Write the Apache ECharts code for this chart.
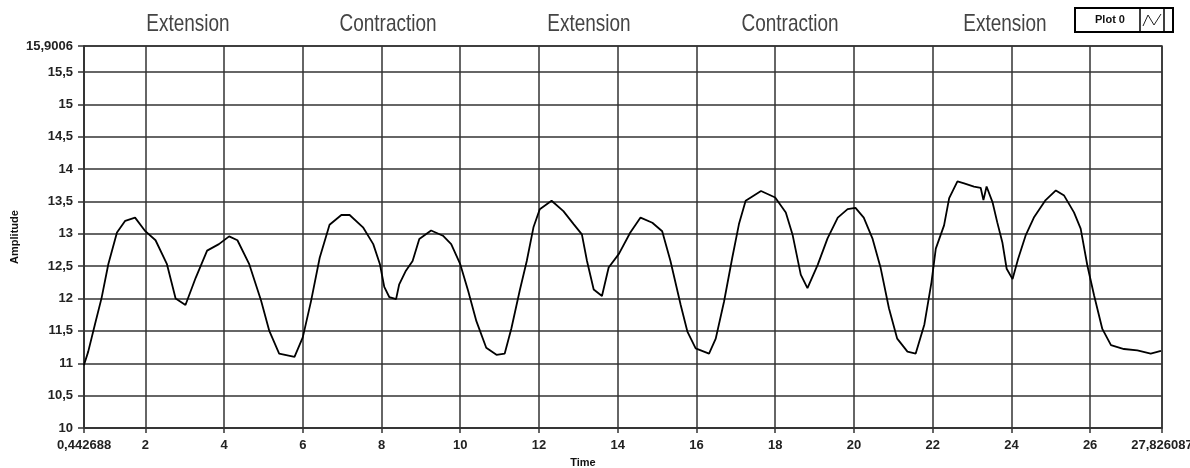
<!DOCTYPE html>
<html>
<head>
<meta charset="utf-8">
<script src="https://cdn.jsdelivr.net/npm/echarts@6/dist/echarts.min.js"></script>
<style>
  html, body { margin: 0; padding: 0; background: #fff; }
  #chart { width: 1190px; height: 468px; }
</style>
</head>
<body>
<div id="chart"></div>
<script>
// ---- data ----
const time = [
  0.44, 0.55, 0.72, 0.89, 1.06, 1.28, 1.49, 1.74, 2.0, 2.26, 2.55, 2.77, 3.02, 3.28, 3.57, 3.87,
  4.13, 4.34, 4.64, 4.94, 5.15, 5.4, 5.79, 6.0, 6.21, 6.43, 6.68, 6.98, 7.19, 7.53, 7.79, 7.96,
  8.07, 8.2, 8.37, 8.45, 8.62, 8.79, 8.96, 9.26, 9.56, 9.77, 10.0, 10.2, 10.41, 10.66, 10.92, 11.13,
  11.3, 11.51, 11.69, 11.86, 12.02, 12.32, 12.62, 12.88, 13.09, 13.22, 13.39, 13.6, 13.77, 14.03,
  14.32, 14.58, 14.88, 15.13, 15.34, 15.6, 15.77, 15.98, 16.32, 16.49, 16.7, 16.91, 17.08, 17.25,
  17.64, 18.0, 18.27, 18.44, 18.65, 18.82, 19.08, 19.33, 19.59, 19.84, 20.04, 20.25, 20.47, 20.68,
  20.89, 21.1, 21.36, 21.57, 21.79, 21.97, 22.08, 22.29, 22.42, 22.63, 22.8, 23.05, 23.22, 23.29,
  23.37, 23.52, 23.64, 23.77, 23.88, 24.03, 24.17, 24.36, 24.58, 24.87, 25.13, 25.34, 25.59, 25.76,
  25.93, 26.1, 26.31, 26.53, 26.86, 27.2, 27.54, 27.8
];
const amplitude = [
  10.97, 11.18, 11.6, 12.01, 12.53, 13.02, 13.2, 13.25, 13.04, 12.9, 12.53, 12.0, 11.9, 12.32, 12.74, 12.84,
  12.96, 12.9, 12.53, 11.97, 11.5, 11.15, 11.1, 11.4, 11.96, 12.63, 13.14, 13.29, 13.29, 13.1, 12.84, 12.53,
  12.18, 12.02, 11.99, 12.22, 12.43, 12.58, 12.92, 13.05, 12.97, 12.84, 12.53, 12.12, 11.65, 11.24, 11.13, 11.15,
  11.54, 12.12, 12.58, 13.1, 13.38, 13.51, 13.35, 13.15, 12.99, 12.58, 12.14, 12.04, 12.48, 12.69,
  13.02, 13.25, 13.17, 13.04, 12.58, 11.9, 11.49, 11.23, 11.15, 11.38, 11.95, 12.63, 13.15, 13.51,
  13.66, 13.56, 13.33, 12.99, 12.37, 12.16, 12.52, 12.93, 13.25, 13.38, 13.4, 13.25, 12.93, 12.47,
  11.85, 11.38, 11.18, 11.15, 11.6, 12.25, 12.77, 13.13, 13.55, 13.81, 13.78, 13.73, 13.71, 13.52,
  13.73, 13.49, 13.18, 12.87, 12.46, 12.3, 12.61, 12.97, 13.26, 13.52, 13.67, 13.59, 13.33, 13.08,
  12.51, 12.05, 11.53, 11.28, 11.22, 11.2, 11.15, 11.19
];
const xTicks = [0.442688, 2, 4, 6, 8, 10, 12, 14, 16, 18, 20, 22, 24, 26, 27.826087];
const yTicks = [10, 10.5, 11, 11.5, 12, 12.5, 13, 13.5, 14, 14.5, 15, 15.5, 15.9006];
const phaseLabels = ['Extension', 'Contraction', 'Extension', 'Contraction', 'Extension'];
const seriesName = 'Plot 0';

// ---- layout ----
const phaseX = [188, 388, 589, 790, 1005];
const fmt = v => String(v).replace('.', ',');

const chart = echarts.init(document.getElementById('chart'), null, { renderer: 'canvas' });

const gridColor = '#333';
const tickFont = { fontFamily: 'Liberation Sans, Arial, sans-serif', fontWeight: 'bold', fontSize: 13, color: '#222' };

const graphics = phaseLabels.map((t, i) => ({
  type: 'text',
  x: phaseX[i], y: 24, scaleX: 0.79, scaleY: 1,
  style: {
    text: t, x: 0, y: 0, textAlign: 'center', textVerticalAlign: 'middle',
    font: '24px "Liberation Sans", Arial, sans-serif',
    fill: '#444'
  }
}));
// legend box, LabVIEW style
graphics.push({
  type: 'group', x: 1075, y: 8,
  children: [
    { type: 'rect', shape: { x: 0, y: 0, width: 98, height: 24 }, style: { fill: '#fff', stroke: '#000', lineWidth: 2 } },
    { type: 'line', shape: { x1: 65, y1: 0, x2: 65, y2: 24 }, style: { stroke: '#000', lineWidth: 1.5 } },
    { type: 'line', shape: { x1: 89, y1: 0, x2: 89, y2: 24 }, style: { stroke: '#000', lineWidth: 1.5 } },
    { type: 'polyline', shape: { points: [[68, 18], [73, 7], [79, 17], [86, 6]] }, style: { stroke: '#222', lineWidth: 1, fill: null } },
    { type: 'text', style: { text: seriesName, x: 35, y: 12, textAlign: 'center', textVerticalAlign: 'middle',
      font: 'bold 11px "Liberation Sans", Arial, sans-serif', fill: '#111' } }
  ]
});

chart.setOption({
  animation: false,
  backgroundColor: '#fff',
  grid: { left: 84, right: 28, top: 46, bottom: 40, outerBoundsMode: 'none', containLabel: false,
          show: true, borderColor: gridColor, borderWidth: 1.5, backgroundColor: '#fff' },
  xAxis: {
    type: 'value', min: 0.442688, max: 27.826087,
    name: 'Time', nameLocation: 'middle', nameGap: 29, nameMoveOverlap: false,
    nameTextStyle: { fontFamily: 'Liberation Sans, Arial, sans-serif', fontWeight: 'bold', fontSize: 11, color: '#111', padding: [0, 80, 0, 0] },
    axisLine: { show: true, lineStyle: { color: gridColor, width: 1.5 } },
    axisTick: { show: true, length: 5, customValues: xTicks, lineStyle: { color: gridColor, width: 1.5 } },
    axisLabel: Object.assign({ customValues: xTicks, margin: 11, formatter: fmt }, tickFont),
    splitLine: { show: true, lineStyle: { color: gridColor, width: 1.5 } }
  },
  yAxis: {
    type: 'value', min: 10, max: 15.9006,
    name: 'Amplitude', nameLocation: 'middle', nameGap: 64, nameRotate: 90, nameMoveOverlap: false,
    nameTextStyle: { fontFamily: 'Liberation Sans, Arial, sans-serif', fontWeight: 'bold', fontSize: 11, color: '#111' },
    axisLine: { show: true, lineStyle: { color: gridColor, width: 1.5 } },
    axisTick: { show: true, length: 6, customValues: yTicks, lineStyle: { color: gridColor, width: 1.5 } },
    axisLabel: Object.assign({ customValues: yTicks, margin: 11, formatter: fmt }, tickFont),
    splitLine: { show: true, lineStyle: { color: gridColor, width: 1.5 } }
  },
  series: [{
    name: seriesName, type: 'line', showSymbol: false, smooth: false,
    data: time.map((t, i) => [t, amplitude[i]]),
    lineStyle: { color: '#000', width: 1.8 }
  }],
  graphic: graphics
});
</script>
</body>
</html>
